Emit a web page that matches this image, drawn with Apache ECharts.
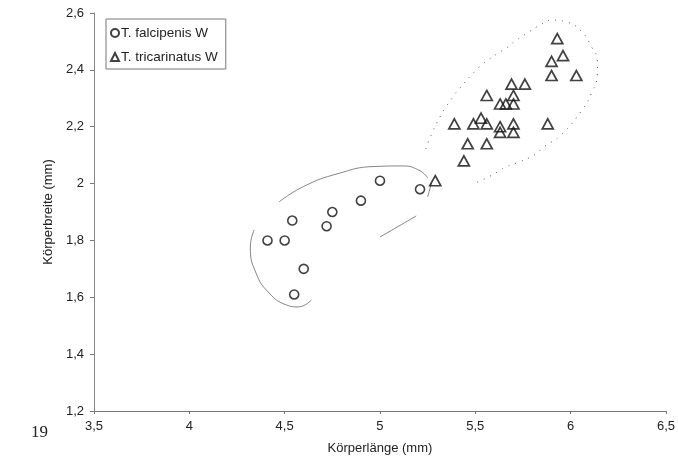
<!DOCTYPE html>
<html>
<head>
<meta charset="utf-8">
<script src="https://cdn.jsdelivr.net/npm/echarts@6/dist/echarts.min.js"></script>
<style>html,body{margin:0;padding:0;background:#fff}#c{width:678px;height:461px}</style>
</head>
<body>
<div id="c"></div>
<script>
// Data
const xTicks = [3.5, 4, 4.5, 5, 5.5, 6, 6.5];
const yTicks = [1.2, 1.4, 1.6, 1.8, 2, 2.2, 2.4, 2.6];

const falcipenisX = [4.41, 4.50, 4.54, 4.60, 4.55, 4.72, 4.75, 4.90, 5.00, 5.21];
const falcipenisY = [1.80, 1.80, 1.87, 1.70, 1.61, 1.85, 1.90, 1.94, 2.01, 1.98];

const tricarinatusX = [5.29, 5.93, 5.96, 5.90, 5.90, 6.03, 5.69, 5.76, 5.70, 5.63, 5.66, 5.70, 5.56, 5.53, 5.39, 5.49, 5.56, 5.63, 5.70, 5.63, 5.70, 5.88, 5.46, 5.56, 5.44];
const tricarinatusY = [2.01, 2.51, 2.45, 2.43, 2.38, 2.38, 2.35, 2.35, 2.31, 2.28, 2.28, 2.28, 2.31, 2.23, 2.21, 2.21, 2.21, 2.20, 2.21, 2.18, 2.18, 2.21, 2.14, 2.14, 2.08];

// hand-drawn outlines (data units)
const hullAtopX = [4.47, 4.60, 4.78, 4.97, 5.12, 5.21, 5.25];
const hullAtopY = [1.935, 1.990, 2.035, 2.060, 2.062, 2.045, 2.020];
const hullAleftX = [4.34, 4.32, 4.35, 4.42, 4.51, 4.57, 4.64];
const hullAleftY = [1.837, 1.777, 1.685, 1.614, 1.573, 1.566, 1.590];
const hullArightX = [5.27, 5.25];
const hullArightY = [2.002, 1.953];
const hullAlowX = [5.00, 5.19];
const hullAlowY = [1.812, 1.886];

const hullBX = [5.24, 5.26, 5.32, 5.39, 5.41, 5.52, 5.56, 5.62, 5.67, 5.71, 5.78, 5.84, 5.90, 5.98, 6.06, 6.11, 6.14, 6.14, 6.11, 6.06, 5.95, 5.86, 5.81, 5.73, 5.66, 5.58, 5.50];
const hullBY = [2.122, 2.157, 2.241, 2.312, 2.329, 2.410, 2.431, 2.459, 2.480, 2.502, 2.533, 2.558, 2.575, 2.568, 2.533, 2.480, 2.435, 2.389, 2.319, 2.259, 2.171, 2.129, 2.101, 2.076, 2.058, 2.027, 2.002];

const zip = (a, b) => a.map((v, i) => [v, b[i]]);
const comma = v => String(v).replace('.', ',');
const FONT = '"Liberation Sans", Arial, sans-serif';

const hullLine = (xs, ys, dotted) => ({
  type: 'line', data: zip(xs, ys), smooth: 0.5, symbol: 'none', silent: true,
  lineStyle: dotted ? {color: '#555', width: 1, type: [1, 6]} : {color: '#666', width: 0.8},
  z: 1, legendHoverLink: false
});

const chart = echarts.init(document.getElementById('c'), null, {renderer: 'canvas'});
chart.setOption({
  backgroundColor: '#fff',
  animation: false,
  grid: {left: 94, right: 11, top: 13, bottom: 50, containLabel: false},
  xAxis: {
    type: 'value', min: 3.5, max: 6.5, interval: 0.5,
    name: 'Körperlänge (mm)', nameLocation: 'middle', nameGap: 31,
    nameTextStyle: {fontFamily: FONT, fontSize: 13, color: '#222'},
    axisLine: {lineStyle: {color: '#777', width: 1}},
    axisTick: {show: true, length: 3, lineStyle: {color: '#777'}},
    axisLabel: {formatter: comma, fontFamily: FONT, fontSize: 13, color: '#222', margin: 9},
    splitLine: {show: false}
  },
  yAxis: {
    type: 'value', min: 1.2, max: 2.6, interval: 0.2,
    name: 'Körperbreite (mm)', nameLocation: 'middle', nameGap: 27, nameRotate: 90,
    nameTextStyle: {fontFamily: FONT, fontSize: 13, color: '#222'},
    axisLine: {show: true, lineStyle: {color: '#888', width: 1}},
    axisTick: {show: true, length: 4, lineStyle: {color: '#777'}},
    axisLabel: {formatter: v => comma(Math.round(v * 10) / 10), fontFamily: FONT, fontSize: 13, color: '#222', margin: 10},
    splitLine: {show: false}
  },
  legend: {
    left: 106, top: 19, orient: 'vertical', itemGap: 10, itemWidth: 8, itemHeight: 8,
    padding: [7, 8, 5, 4], borderColor: '#777', borderWidth: 1, backgroundColor: '#fff',
    textStyle: {fontFamily: FONT, fontSize: 13.5, color: '#222', padding: [0, 0, 0, -3]},
    data: ['T. falcipenis W', 'T. tricarinatus W']
  },
  series: [
    hullLine(hullAtopX, hullAtopY, false),
    hullLine(hullAleftX, hullAleftY, false),
    hullLine(hullArightX, hullArightY, false),
    hullLine(hullAlowX, hullAlowY, false),
    hullLine(hullBX, hullBY, true),
    {
      name: 'T. falcipenis W', type: 'scatter', symbol: 'circle', symbolSize: 9,
      data: zip(falcipenisX, falcipenisY), z: 3,
      itemStyle: {color: '#fff', borderColor: '#111', borderWidth: 1.6}
    },
    {
      name: 'T. tricarinatus W', type: 'scatter', symbol: 'triangle', symbolSize: [11, 10],
      data: zip(tricarinatusX, tricarinatusY), z: 3,
      itemStyle: {color: 'rgba(255,255,255,0)', borderColor: '#111', borderWidth: 1.7}
    }
  ],
  graphic: [{
    type: 'text', left: 31, top: 424,
    style: {text: '19', font: '17px "Liberation Serif", "Times New Roman", serif', fill: '#222'}
  }]
});
</script>
</body>
</html>
